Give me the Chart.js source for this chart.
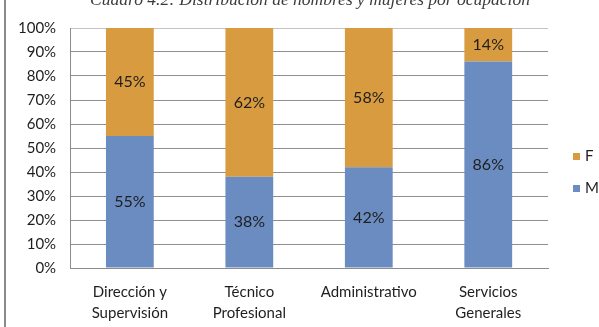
<!DOCTYPE html>
<html>
<head>
<meta charset="utf-8">
<script src="https://cdn.jsdelivr.net/npm/chart.js@4"></script>
<style>
  html, body { margin: 0; padding: 0; background: #fff; }
  #wrap { position: relative; width: 599px; height: 327px; overflow: hidden; }
  #frame { position: absolute; left: 4px; top: 0; bottom: 0; border-left: 2px solid #8a8a8a; }
  #box { position: absolute; left: 0; top: 0; width: 599px; height: 327px; }
  #title {
    position: absolute; left: 60px; width: 500px; top: -11px;
    text-align: center; white-space: nowrap;
    font: italic 17.5px/20px "Liberation Serif", serif; color: #3c3c3c;
  }
  #legend { position: absolute; left: 573px; top: 145px; font: 15px Lato, sans-serif; color: #1e1e1e; }
  #legend div { height: 32px; line-height: 20px; white-space: nowrap; }
  #legend span { display: inline-block; width: 7px; height: 7px; margin-right: 5px; vertical-align: 1px; }
</style>
</head>
<body>
<div id="wrap">
  <div id="box"><canvas id="chart"></canvas></div>
  <div id="title">Cuadro 4.2: Distribución de hombres y mujeres por ocupación</div>
  <div id="legend"></div>
  <div id="frame"></div>
</div>
<script>
// occupations and share of men / women (%)
const categories = [['Dirección y', 'Supervisión'], ['Técnico', 'Profesional'], 'Administrativo', ['Servicios', 'Generales']];
const hombres = [55, 38, 42, 86];
const mujeres = [45, 62, 58, 14];
const yTicks = [0, 10, 20, 30, 40, 50, 60, 70, 80, 90, 100];

const BLUE = '#6a8cc1';
const ORANGE = '#d99b40';
const FONT = 'Lato, "Open Sans", sans-serif';

// percentage written in the middle of every segment
const segmentLabels = {
  id: 'segmentLabels',
  afterDatasetsDraw(chart) {
    const { ctx } = chart;
    ctx.save();
    ctx.font = '16px ' + FONT;
    ctx.fillStyle = '#1e1e1e';
    ctx.textAlign = 'center';
    ctx.textBaseline = 'middle';
    chart.data.datasets.forEach((ds, i) => {
      chart.getDatasetMeta(i).data.forEach((bar, j) => {
        const p = bar.getCenterPoint();
        ctx.fillText(ds.data[j] + '%', p.x, p.y);
      });
    });
    ctx.restore();
  }
};

const chart = new Chart(document.getElementById('chart'), {
  type: 'bar',
  data: {
    labels: categories,
    datasets: [
      { label: 'M', data: hombres, backgroundColor: BLUE },
      { label: 'F', data: mujeres, backgroundColor: ORANGE }
    ]
  },
  options: {
    responsive: true, maintainAspectRatio: false,
    animation: false,
    barPercentage: 0.4,
    categoryPercentage: 1,
    layout: { padding: { left: 4, right: 51, top: 28, bottom: -11 } },
    plugins: {
      legend: { display: false },
      tooltip: { enabled: false }
    },
    scales: {
      x: {
        stacked: true,
        grid: { display: false, drawTicks: false },
        border: { display: true, color: '#8c8c8c', width: 1 },
        ticks: { color: '#1e1e1e', padding: 14, font: { family: FONT, size: 15, lineHeight: 1.4 }, maxRotation: 0 }
      },
      y: {
        stacked: true,
        min: 0, max: 100,
        afterBuildTicks: axis => { axis.ticks = yTicks.map(v => ({ value: v })); },
        grid: {
          drawTicks: false,
          color: c => c.tick && c.tick.value === 100 ? '#c4c4c4' : '#8f8f8f'
        },
        border: { display: true, color: '#8c8c8c', width: 1 },
        ticks: { color: '#1e1e1e', padding: 14, font: { family: FONT, size: 15 }, callback: v => v + '%' }
      }
    }
  },
  plugins: [segmentLabels]
});

// legend on the right, F above M, built from the chart's own legend items
const items = chart.options.plugins.legend.labels.generateLabels(chart).reverse();
document.getElementById('legend').innerHTML = items
  .map(it => `<div><span style="background:${it.fillStyle}"></span>${it.text}</div>`)
  .join('');
</script>
</body>
</html>
